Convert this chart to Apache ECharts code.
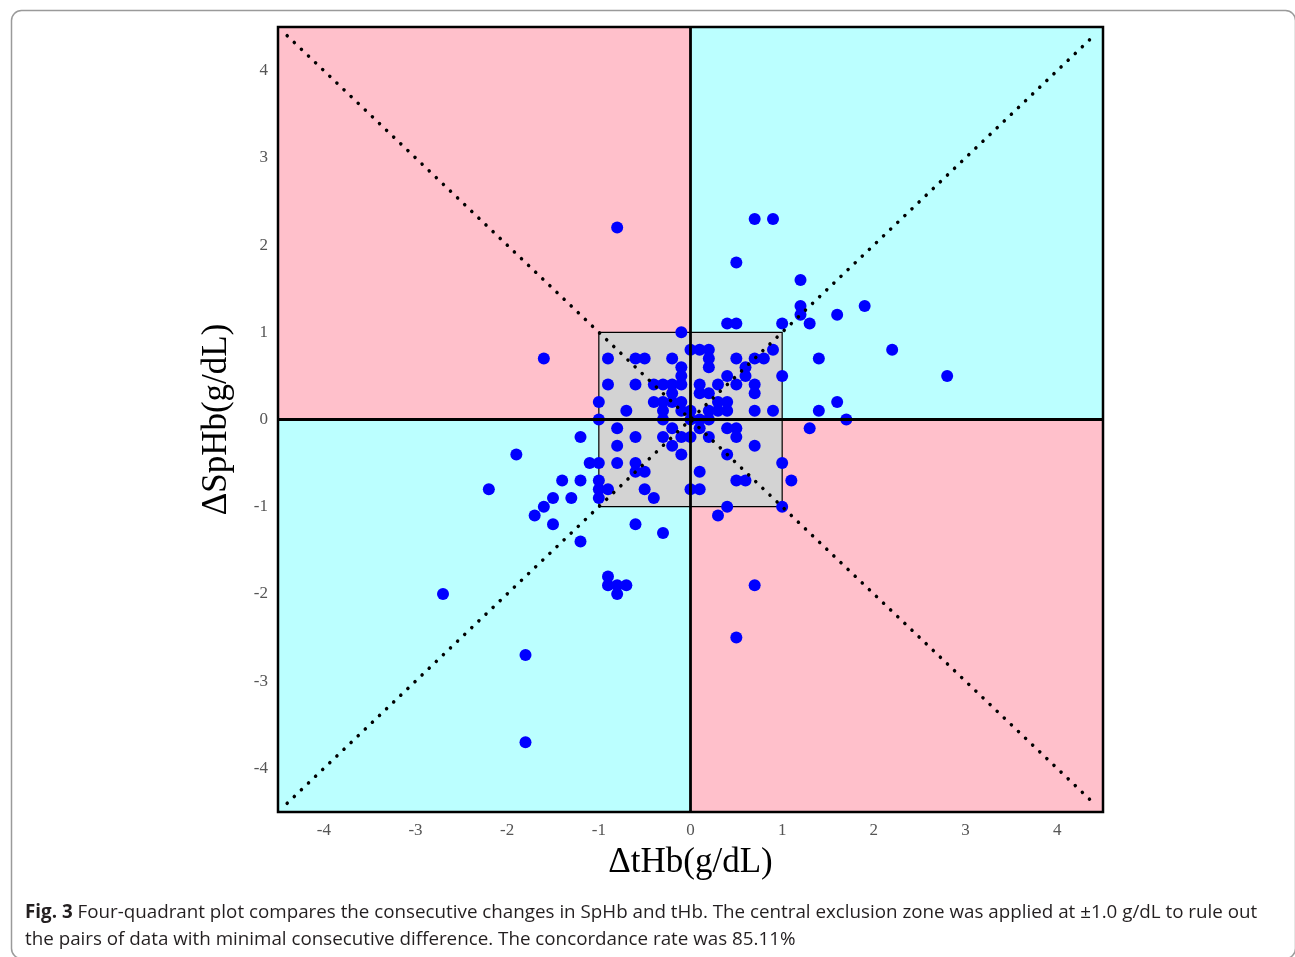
<!DOCTYPE html>
<html>
<head>
<meta charset="utf-8">
<script src="https://cdn.jsdelivr.net/npm/echarts@6/dist/echarts.min.js"></script>
<style>
html,body{margin:0;padding:0;background:#fff;}
#chart{width:1295px;height:957px;}
</style>
</head>
<body>
<div id="chart"></div>
<script>
// ΔtHb values (x) and ΔSpHb values (y), g/dL
const dTHb = [
  -0.8,-1.6,
  0.7,0.9,0.5,1.2,1.2,1.2,1.3,1.0,1.9,1.6,0.4,0.5,1.4,1.0,1.6,1.4,1.7,2.2,2.8,1.3,
  1.0,1.1,1.0,0.4,0.3,0.7,0.5,
  -1.2,-1.9,-2.2,-1.1,-1.0,-1.4,-1.2,-1.0,-1.0,-1.0,-0.9,-1.5,-1.3,-1.6,-1.7,-1.5,-1.2,-0.6,-0.3,-0.9,-0.9,-0.8,-0.7,-0.8,-2.7,-1.8,-1.8,
  -0.1,0.0,0.1,0.2,0.2,0.2,0.9,
  -0.9,-0.6,-0.5,-0.2,0.5,0.7,0.8,
  -0.1,-0.1,0.6,0.6,0.4,
  -0.9,-0.6,-0.4,-0.3,-0.2,-0.1,0.1,0.3,0.5,0.7,
  0.7,-0.2,0.1,0.2,
  -1.0,-0.4,-0.3,-0.2,-0.1,0.3,0.4,
  -0.7,-0.3,-0.1,0.0,0.2,0.3,0.4,0.7,0.9,
  -1.0,-0.3,0.0,0.1,0.2,
  -0.8,-0.2,0.1,0.4,0.5,
  -0.6,-0.3,-0.1,0.0,0.2,0.5,
  -0.8,-0.2,0.7,
  -0.1,0.4,
  -0.8,-0.6,
  -0.6,-0.5,0.1,
  0.5,0.6,
  -0.5,0.0,0.1,
  -0.4
];
const dSpHb = [
  2.2,0.7,
  2.3,2.3,1.8,1.6,1.3,1.2,1.1,1.1,1.3,1.2,1.1,1.1,0.7,0.5,0.2,0.1,0.0,0.8,0.5,-0.1,
  -0.5,-0.7,-1.0,-1.0,-1.1,-1.9,-2.5,
  -0.2,-0.4,-0.8,-0.5,-0.5,-0.7,-0.7,-0.7,-0.8,-0.9,-0.8,-0.9,-0.9,-1.0,-1.1,-1.2,-1.4,-1.2,-1.3,-1.8,-1.9,-1.9,-1.9,-2.0,-2.0,-2.7,-3.7,
  1.0,0.8,0.8,0.8,0.7,0.6,0.8,
  0.7,0.7,0.7,0.7,0.7,0.7,0.7,
  0.6,0.5,0.6,0.5,0.5,
  0.4,0.4,0.4,0.4,0.4,0.4,0.4,0.4,0.4,0.4,
  0.3,0.3,0.3,0.3,
  0.2,0.2,0.2,0.2,0.2,0.2,0.2,
  0.1,0.1,0.1,0.1,0.1,0.1,0.1,0.1,0.1,
  0.0,0.0,0.0,0.0,0.0,
  -0.1,-0.1,-0.1,-0.1,-0.1,
  -0.2,-0.2,-0.2,-0.2,-0.2,-0.2,
  -0.3,-0.3,-0.3,
  -0.4,-0.4,
  -0.5,-0.5,
  -0.6,-0.6,-0.6,
  -0.7,-0.7,
  -0.8,-0.8,-0.8,
  -0.9
];
const tickValues = [-4,-3,-2,-1,0,1,2,3,4];
const axisMin = -4.5, axisMax = 4.5;
const zoneLimit = 1.0;
const diagEnd = 4.4;

const points = dTHb.map((x,i)=>[x,dSpHb[i]]);

const PINK = '#FFC0CB', CYAN = '#BBFFFF';
const serif = '"Liberation Serif","DejaVu Serif",serif';

const chart = echarts.init(document.getElementById('chart'));
chart.setOption({
  animation:false,
  backgroundColor:'#fff',
  grid:{left:278,top:27,width:825,height:785,show:true,borderColor:'#000',borderWidth:2.5,backgroundColor:'transparent',z:10},
  xAxis:{
    type:'value',min:axisMin,max:axisMax,
    name:'ΔtHb(g/dL)',nameLocation:'middle',nameGap:33,
    nameTextStyle:{fontFamily:serif,fontSize:35,color:'#000'},
    axisLine:{show:false},
    splitLine:{show:false},
    axisTick:{show:true,length:5,customValues:tickValues,lineStyle:{color:'#444',width:1}},
    axisLabel:{customValues:tickValues,fontFamily:serif,fontSize:17,color:'#555',margin:10}
  },
  yAxis:{
    type:'value',min:axisMin,max:axisMax,
    name:'ΔSpHb(g/dL)',nameLocation:'middle',nameGap:44,
    nameTextStyle:{fontFamily:serif,fontSize:35,color:'#000'},
    axisLine:{show:false},
    splitLine:{show:false},
    axisTick:{show:true,length:5,customValues:tickValues,lineStyle:{color:'#444',width:1}},
    axisLabel:{customValues:tickValues,fontFamily:serif,fontSize:17,color:'#555',margin:10}
  },
  graphic:[
    {type:'rect',left:9,top:8,shape:{width:1284,height:948,r:10},style:{fill:'none',stroke:'#9a9a9a',lineWidth:1.5},silent:true},
    {type:'text',left:25,top:903,style:{
      text:'{b|Fig. 3} Four-quadrant plot compares the consecutive changes in SpHb and tHb. The central exclusion zone was applied at ±1.0 g/dL to rule out',
      rich:{b:{fontWeight:'bold',fontFamily:'"Open Sans"',fontSize:18.8,fill:'#231f20'}},
      fontFamily:'"Open Sans"',fontSize:18.8,fill:'#231f20'}},
    {type:'text',left:25,top:930,style:{
      text:'the pairs of data with minimal consecutive difference. The concordance rate was 85.11%',
      fontFamily:'"Open Sans"',fontSize:18.8,fill:'#231f20'}}
  ],
  series:[
    {
      type:'scatter',data:[],z:1,silent:true,
      markArea:{silent:true,data:[
        [{coord:[axisMin,0],itemStyle:{color:PINK}},{coord:[0,axisMax]}],
        [{coord:[0,axisMin],itemStyle:{color:PINK}},{coord:[axisMax,0]}],
        [{coord:[0,0],itemStyle:{color:CYAN}},{coord:[axisMax,axisMax]}],
        [{coord:[axisMin,axisMin],itemStyle:{color:CYAN}},{coord:[0,0]}],
        [{coord:[-zoneLimit,-zoneLimit],itemStyle:{color:'#D3D3D3',borderColor:'#000',borderWidth:1.2}},{coord:[zoneLimit,zoneLimit]}]
      ]}
    },
    {
      type:'scatter',data:points,symbol:'circle',symbolSize:12,z:2,
      itemStyle:{color:'#0000FF',opacity:1}
    },
    {
      type:'scatter',data:[],z:3,silent:true,
      markLine:{silent:true,symbol:['none','none'],label:{show:false},
        data:[
          [{coord:[-diagEnd,diagEnd],lineStyle:{color:'#000',width:3.5,type:[0.1,9.7],cap:'round'}},{coord:[diagEnd,-diagEnd]}],
          [{coord:[-diagEnd,-diagEnd],lineStyle:{color:'#000',width:3.5,type:[0.1,9.7],cap:'round'}},{coord:[diagEnd,diagEnd]}],
          [{coord:[0,axisMin],lineStyle:{color:'#000',width:2.8,type:'solid'}},{coord:[0,axisMax]}],
          [{coord:[axisMin,0],lineStyle:{color:'#000',width:2.8,type:'solid'}},{coord:[axisMax,0]}]
        ]}
    }
  ]
});
</script>
</body>
</html>
